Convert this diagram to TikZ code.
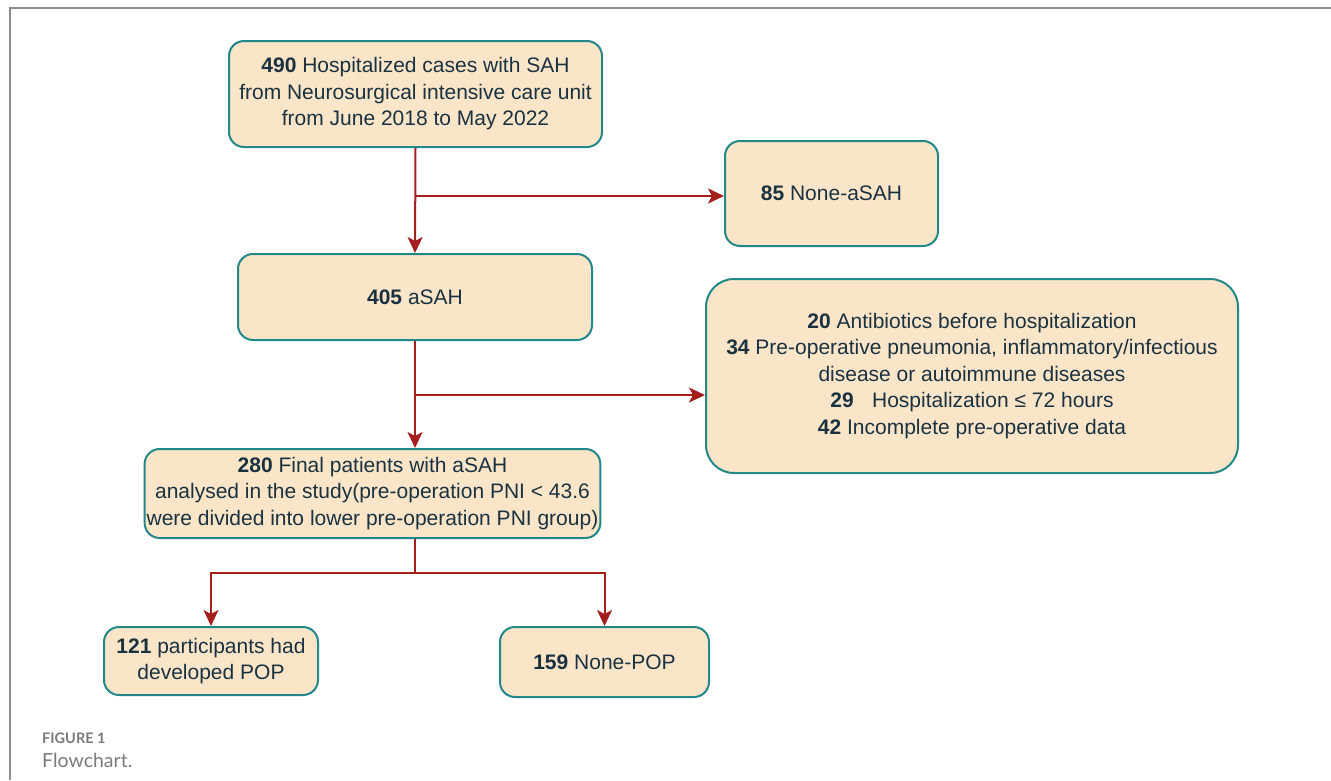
\documentclass[tikz,border=0pt]{standalone}
\usepackage{fontspec}
\setmainfont{Liberation Sans}
\newfontfamily\capfont{Lato}
\usetikzlibrary{arrows.meta}

\definecolor{boxfill}{HTML}{FAE5C9}
\definecolor{boxline}{HTML}{22888A}
\definecolor{flowred}{HTML}{A51E1E}
\definecolor{txtdark}{HTML}{1A3240}
\definecolor{framegray}{HTML}{8C8C8C}
\definecolor{capgray}{HTML}{7A7A7A}

\tikzset{
  box/.style={draw=boxline, fill=boxfill, line width=2pt, rounded corners=15pt,
    align=center, text=txtdark, inner sep=2pt, font=\fontsize{21}{26.5}\selectfont},
  flow/.style={draw=flowred, line width=2pt, -{Stealth[length=16pt,width=15pt,inset=4pt]}},
  link/.style={draw=flowred, line width=2pt}
}

\begin{document}
\begin{tikzpicture}[x=1pt,y=-1pt]
  \useasboundingbox (0,0) rectangle (1331,780);
  \draw[framegray, line width=2pt] (10,780) -- (10,8) -- (1331,8);

  \node[box, minimum width=373, minimum height=106] (all) at (415.5,94)
    {\textbf{490} Hospitalized cases with SAH\\ from Neurosurgical intensive care unit\\ from June 2018 to May 2022};
  \node[box, minimum width=213, minimum height=105] (nonasah) at (831.5,193.5) {\textbf{85} None-aSAH};
  \node[box, minimum width=354, minimum height=86] (asah) at (415,297) {\textbf{405} aSAH};
  \node[box, rounded corners=28pt, minimum width=532, minimum height=194] (excl) at (972,376)
    {\textbf{20} Antibiotics before hospitalization\\
     \textbf{34} Pre-operative pneumonia, inflammatory/infectious\\
     disease or autoimmune diseases\\
     \textbf{29}\hspace{0.6em} Hospitalization ≤ 72 hours\\
     \textbf{42} Incomplete pre-operative data};
  \node[box, minimum width=449, minimum height=89] (final) at (372.5,493.5)
    {\textbf{280} Final patients with aSAH\\ analysed in the study(pre-operation PNI < 43.6\\ were divided into lower pre-operation PNI group)};
  \node[box, minimum width=214, minimum height=68] (pop) at (211,661) {\textbf{121} participants had\\ developed POP};
  \node[box, minimum width=209, minimum height=70] (nonpop) at (604.5,662) {\textbf{159} None-POP};

  % connectors
  \coordinate (s1) at (415,196);
  \coordinate (s2) at (415,395);
  \coordinate (s3) at (415,573);
  \draw[flow] (all.south) -- (asah.north);
  \draw[flow] (s1) -- (s1 -| nonasah.west);
  \draw[flow] (asah.south) -- (asah.south |- final.north);
  \draw[flow] (s2) -- (s2 -| excl.west);
  \draw[link] (final.south -| s3) -- (s3);
  \draw[flow] (s3) -| (pop.north);
  \draw[flow] (s3) -| (nonpop.north);

  % caption
  \node[anchor=base west, inner sep=0, text=capgray, font=\capfont\bfseries\fontsize{14.5}{16}\selectfont] (fig) at (42,743) {FIGURE 1};
  \node[anchor=base west, inner sep=0, text=capgray, font=\capfont\fontsize{19.5}{22}\selectfont] (capt) at (42,767) {Flowchart.};
\end{tikzpicture}
\end{document}
